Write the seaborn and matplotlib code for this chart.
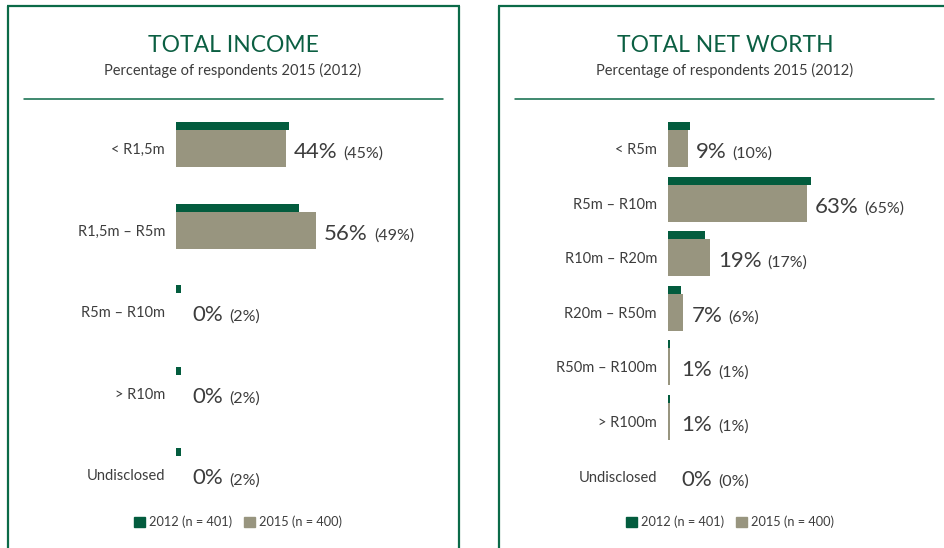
import numpy as np
import pandas as pd
import matplotlib
matplotlib.use("Agg")
import matplotlib.pyplot as plt
from matplotlib.lines import Line2D
from matplotlib.patches import Patch
import seaborn as sns

# Data
income_cats = ["< R1,5m", "R1,5m – R5m", "R5m – R10m", "> R10m", "Undisclosed"]
income_2015 = [44, 56, 0, 0, 0]
income_2012 = [45, 49, 2, 2, 2]

worth_cats = ["< R5m", "R5m – R10m", "R10m – R20m", "R20m – R50m",
              "R50m – R100m", "> R100m", "Undisclosed"]
worth_2015 = [9, 63, 19, 7, 1, 1, 0]
worth_2012 = [10, 65, 17, 6, 1, 1, 0]

legend_labels = ["2012 (n = 401)", "2015 (n = 400)"]

GREEN = "#035c3e"
LINE_GREEN = "#0b6a48"
GREY = "#98957f"
TEXT = "#3d3d3d"

W, H = 944, 548

sns.set_theme(style="white")
plt.rcParams["font.family"] = ["Lato", "DejaVu Sans"]

fig = plt.figure(figsize=(W / 100, H / 100), dpi=100)


# figure coords from pixel coords (origin top-left)
def fx(x):
    return x / W


def fy(y):
    return 1 - y / H


def px_rect(x0, y0, x1, y1):
    return [fx(x0), fy(y1), (x1 - x0) / W, (y1 - y0) / H]


def draw_frame(x0, x1, rule0, rule1, cx, title):
    kw = dict(color=LINE_GREEN, lw=1.6, solid_capstyle="butt")
    fig.add_artist(Line2D([fx(x0), fx(x0)], [fy(5.5), 0], **kw))
    fig.add_artist(Line2D([fx(x0 - 1), fx(x1 + 1)], [fy(6), fy(6)], **kw))
    if x1 < W:
        fig.add_artist(Line2D([fx(x1), fx(x1)], [fy(5.5), 0], **kw))
    fig.add_artist(Line2D([fx(rule0), fx(rule1)], [fy(98.5), fy(98.5)],
                          color=LINE_GREEN, lw=1.1))
    fig.text(fx(cx), fy(52), title, ha="center", va="baseline",
             fontsize=16.5, color="#0b5f42")
    fig.text(fx(cx), fy(75), "Percentage of respondents 2015 (2012)",
             ha="center", va="baseline", fontsize=10.5, color=TEXT)


def draw_panel(ax, cats, v15, v12, row_px, min_pct, xmax):
    gray_h = 37 / row_px
    green_h = 8 / row_px
    df = pd.DataFrame({"cat": cats, "v": v15})
    sns.barplot(data=df, x="v", y="cat", orient="h", color=GREY,
                saturation=1, width=gray_h, linewidth=0, ax=ax)
    pos = np.arange(len(cats))
    ax.barh(pos - gray_h / 2 - green_h / 2, v12, height=green_h,
            color=GREEN, linewidth=0)
    ax.set_xlim(0, xmax)
    ax.set_ylim(len(cats) - 0.5, -0.5)
    base = 9.5 / row_px
    for i in range(len(cats)):
        x = max(v15[i], min_pct)
        t1 = ax.annotate(f"{v15[i]}%", xy=(x, i + base), xytext=(5.8, 0),
                         textcoords="offset points", ha="left",
                         va="baseline", fontsize=16, color=TEXT)
        ax.annotate(f"({v12[i]}%)", xy=(1, i + base),
                    xycoords=(t1, "data"), xytext=(4.3, 0),
                    textcoords="offset points", ha="left", va="baseline",
                    fontsize=11.5, color=TEXT)
    ax.set_xlabel("")
    ax.set_ylabel("")
    ax.set_xticks([])
    ax.tick_params(axis="y", length=0, pad=8, labelsize=10.5,
                   labelcolor=TEXT)
    sns.despine(ax=ax, left=True, bottom=True)


def draw_legend(cx):
    handles = [Patch(color=GREEN), Patch(color=GREY)]
    fig.legend(handles, legend_labels, loc="center",
               bbox_to_anchor=(fx(cx), fy(522)), ncol=2, frameon=False,
               fontsize=9.2, handlelength=0.85, handleheight=0.85,
               handletextpad=0.3, columnspacing=0.9, labelcolor=TEXT)


# Left panel: total income
draw_frame(7.5, 459, 24, 443, 233, "TOTAL INCOME")
ax1 = fig.add_axes(px_rect(176, 107.7, 440, 515.7))
draw_panel(ax1, income_cats, income_2015, income_2012, 81.6, 3.2, 264 / 2.5)
draw_legend(238)

# Right panel: total net worth
draw_frame(499, W + 10, 515, 934, 725, "TOTAL NET WORTH")
ax2 = fig.add_axes(px_rect(668, 121.2, 930, 503.4))
draw_panel(ax2, worth_cats, worth_2015, worth_2012, 54.6, 2.3, 262 / 2.2)
draw_legend(730)

fig.savefig("out.png", dpi=100)
